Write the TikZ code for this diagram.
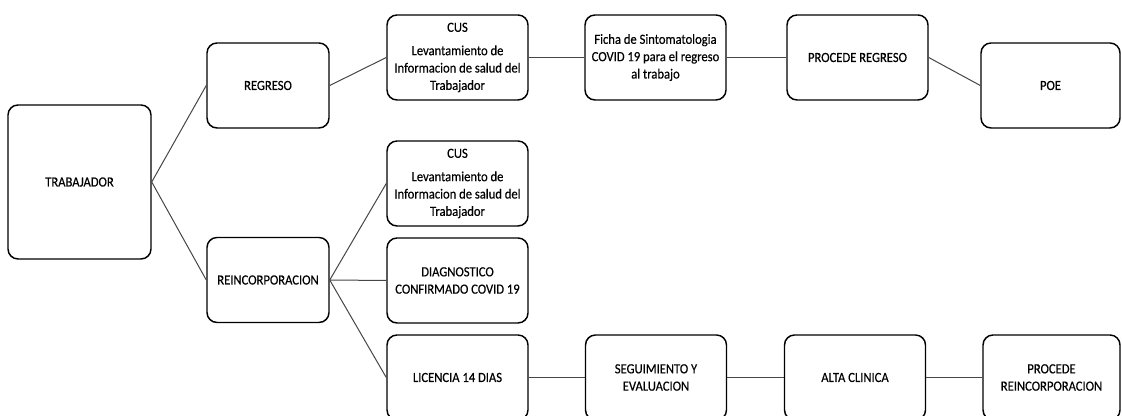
\documentclass[tikz,border=0pt]{standalone}
\usepackage{fontspec}
\setmainfont{Carlito}[FakeStretch=0.9,FakeBold=0.4]
\tikzset{every picture/.style={line width=0.75pt}}
\tikzset{
  stepbox/.style={draw={rgb, 255:red, 0; green, 0; blue, 0 }, line width=1.1pt, rounded corners=7.5pt,
    minimum width=105.75pt, minimum height=63.75pt, inner sep=0.75pt, align=center,
    font=\fontsize{10.5}{13}\selectfont},
  link/.style={draw={rgb, 255:red, 70; green, 70; blue, 70 }, line width=0.75pt}
}

\begin{document}
\begin{tikzpicture}[x=0.75pt,y=0.75pt,yscale=-1,xscale=1]
\useasboundingbox (0,0) rectangle (1122,416);

%Rounded Rect: trabajador
\node [stepbox, minimum width=107.25pt, minimum height=115.5pt] (trab) at (79.5,182) {TRABAJADOR};
%Rounded Rect: regreso
\node [stepbox, minimum width=91.5pt] (regreso) at (268,85.5) {REGRESO};
%Rounded Rect: reincorporacion
\node [stepbox, minimum width=91.5pt] (reinc) at (268,280) {REINCORPORACION};

% upper row
\node [stepbox] (cusA) at (457.5,57.5) {CUS\\[4.5pt]Levantamiento de\\Informacion de salud del\\Trabajador};
\node [stepbox] (ficha) at (655.5,57.5) {Ficha de Sintomatologia\\COVID 19 para el regreso\\al trabajo};
\node [stepbox] (procReg) at (857.5,57.5) {PROCEDE REGRESO};
\node [stepbox, minimum width=104.25pt] (poe) at (1050.5,85.5) {POE};

% lower branch
\node [stepbox] (cusB) at (457.5,183.5) {CUS\\[4.5pt]Levantamiento de\\Informacion de salud del\\Trabajador};
\node [stepbox] (diag) at (457.5,280.5) {DIAGNOSTICO\\CONFIRMADO COVID 19};
\node [stepbox] (lic) at (457.5,377.5) {LICENCIA 14 DIAS};
\node [stepbox] (seg) at (656,377.5) {SEGUIMIENTO Y\\EVALUACION};
\node [stepbox] (alta) at (855,377.5) {ALTA CLINICA};
\node [stepbox, minimum width=102.75pt] (procRein) at (1051.5,377.5) {PROCEDE\\REINCORPORACION};

% Connectors
\draw [link] (trab.east) -- (regreso.west);
\draw [link] (trab.east) -- (reinc.west);
\draw [link] (regreso.east) -- (cusA.west);
\draw [link] (cusA.east) -- (ficha.west);
\draw [link] (ficha.east) -- (procReg.west);
\draw [link] (procReg.east) -- (poe.west);
\draw [link] (reinc.east) -- (cusB.west);
\draw [link] (reinc.east) -- (diag.west);
\draw [link] (reinc.east) -- (lic.west);
\draw [link] (lic.east) -- (seg.west);
\draw [link] (seg.east) -- (alta.west);
\draw [link] (alta.east) -- (procRein.west);
\end{tikzpicture}
\end{document}
